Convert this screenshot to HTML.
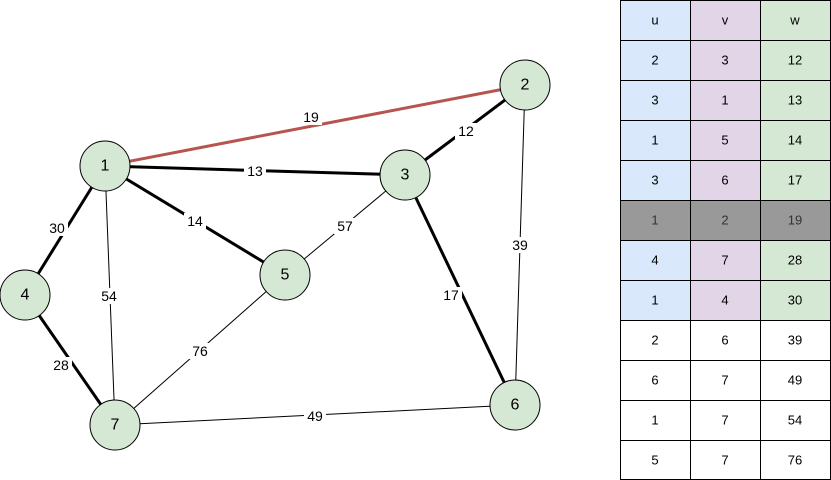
<!DOCTYPE html>
<html><head><style>body{margin:0;background:#fff}svg{display:block}</style></head><body>
<svg width="831" height="480" xmlns="http://www.w3.org/2000/svg" font-family="Liberation Sans, sans-serif">
<g stroke="#000" fill="none">
<line x1="105" y1="166" x2="525" y2="85" stroke="#b85450" stroke-width="3"/>
<line x1="105" y1="166" x2="405" y2="175" stroke-width="3"/>
<line x1="405" y1="175" x2="525" y2="85" stroke-width="3"/>
<line x1="105" y1="166" x2="285" y2="275" stroke-width="3"/>
<line x1="105" y1="166" x2="25" y2="295" stroke-width="3"/>
<line x1="25" y1="295" x2="115" y2="425" stroke-width="3"/>
<line x1="405" y1="175" x2="515" y2="405" stroke-width="3"/>
<line x1="105" y1="166" x2="115" y2="425" stroke-width="1"/>
<line x1="285" y1="275" x2="115" y2="425" stroke-width="1"/>
<line x1="405" y1="175" x2="285" y2="275" stroke-width="1"/>
<line x1="525" y1="85" x2="515" y2="405" stroke-width="1"/>
<line x1="115" y1="425" x2="515" y2="405" stroke-width="1"/>
</g>
<g font-size="14" text-anchor="middle" dominant-baseline="central">
<g fill="#fff">
<rect x="300" y="109" width="22" height="16"/><rect x="244" y="163" width="22" height="16"/>
<rect x="455" y="123" width="22" height="16"/><rect x="184" y="213" width="22" height="16"/>
<rect x="46" y="220" width="22" height="16"/><rect x="50" y="357" width="22" height="16"/>
<rect x="98" y="288" width="22" height="16"/><rect x="189" y="343" width="22" height="16"/>
<rect x="334" y="218" width="22" height="16"/><rect x="509" y="237" width="22" height="16"/>
<rect x="440" y="287" width="22" height="16"/><rect x="304" y="408" width="22" height="16"/>
</g>
<text x="311" y="117">19</text><text x="255" y="171">13</text><text x="466" y="131">12</text>
<text x="195" y="221">14</text><text x="57" y="228">30</text><text x="61" y="365">28</text>
<text x="109" y="296">54</text><text x="200" y="351">76</text><text x="345" y="226">57</text>
<text x="520" y="245">39</text><text x="451" y="295">17</text><text x="315" y="416">49</text>
</g>
<g fill="#d5e8d4" stroke="#000" stroke-width="1">
<circle cx="105" cy="166" r="25"/><circle cx="525" cy="85" r="25"/><circle cx="405" cy="175" r="25"/>
<circle cx="25" cy="295" r="25"/><circle cx="285" cy="275" r="25"/><circle cx="515" cy="405" r="25"/>
<circle cx="115" cy="425" r="25"/>
</g>
<g font-size="16" text-anchor="middle" dominant-baseline="central">
<text x="105" y="166">1</text><text x="525" y="85">2</text><text x="405" y="175">3</text>
<text x="25" y="295">4</text><text x="285" y="275">5</text><text x="515" y="405">6</text><text x="115" y="425">7</text>
</g>
<g stroke="#000" stroke-width="1">
<rect x="620.5" y="0.5" width="70" height="320" fill="#dae8fc"/>
<rect x="690.5" y="0.5" width="70" height="320" fill="#e1d5e7"/>
<rect x="760.5" y="0.5" width="70" height="320" fill="#d5e8d4"/>
<rect x="620.5" y="200.5" width="210" height="40" fill="#999"/>
<rect x="620.5" y="320.5" width="210" height="159" fill="#fff"/>
<line x1="690.5" y1="0" x2="690.5" y2="480"/><line x1="760.5" y1="0" x2="760.5" y2="480"/>
<line x1="620" y1="40.5" x2="831" y2="40.5"/><line x1="620" y1="80.5" x2="831" y2="80.5"/>
<line x1="620" y1="120.5" x2="831" y2="120.5"/><line x1="620" y1="160.5" x2="831" y2="160.5"/>
<line x1="620" y1="280.5" x2="831" y2="280.5"/>
<line x1="620" y1="320.5" x2="831" y2="320.5"/><line x1="620" y1="360.5" x2="831" y2="360.5"/>
<line x1="620" y1="400.5" x2="831" y2="400.5"/><line x1="620" y1="440.5" x2="831" y2="440.5"/>
</g>
<g font-size="13" text-anchor="middle" dominant-baseline="central" fill="#000">
<text x="655" y="20">u</text><text x="725" y="20">v</text><text x="795" y="20">w</text>
<text x="655" y="60">2</text><text x="725" y="60">3</text><text x="795" y="60">12</text>
<text x="655" y="100">3</text><text x="725" y="100">1</text><text x="795" y="100">13</text>
<text x="655" y="140">1</text><text x="725" y="140">5</text><text x="795" y="140">14</text>
<text x="655" y="180">3</text><text x="725" y="180">6</text><text x="795" y="180">17</text>
<g fill="#333"><text x="655" y="220">1</text><text x="725" y="220">2</text><text x="795" y="220">19</text></g>
<text x="655" y="260">4</text><text x="725" y="260">7</text><text x="795" y="260">28</text>
<text x="655" y="300">1</text><text x="725" y="300">4</text><text x="795" y="300">30</text>
<text x="655" y="340">2</text><text x="725" y="340">6</text><text x="795" y="340">39</text>
<text x="655" y="380">6</text><text x="725" y="380">7</text><text x="795" y="380">49</text>
<text x="655" y="420">1</text><text x="725" y="420">7</text><text x="795" y="420">54</text>
<text x="655" y="460">5</text><text x="725" y="460">7</text><text x="795" y="460">76</text>
</g>
</svg>
</body></html>
